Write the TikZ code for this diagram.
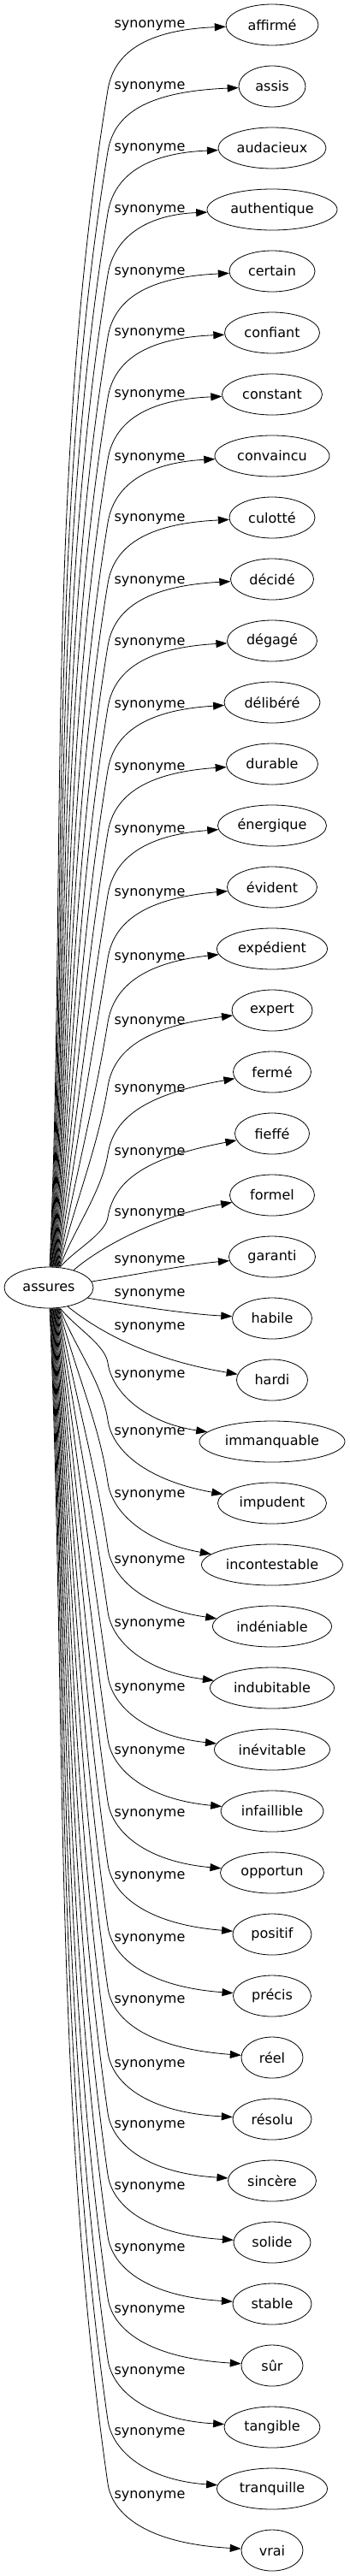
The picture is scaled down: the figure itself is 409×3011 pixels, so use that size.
\documentclass[tikz,border=0pt]{standalone}
\usepackage{fontspec}
\setmainfont{DejaVu Sans}
\usetikzlibrary{arrows.meta,positioning,shapes.geometric}

% edge going up from assures, #1 target, #2 label y, #3 start shift
\newcommand{\synup}[3]{%
  \pgfmathsetmacro{\ky}{#2+75}
  \pgfmathsetmacro{\hh}{(1481-\ky)/3}
  \pgfmathsetmacro{\dx}{(69-#3)*0.3}
  \draw[syn] ([xshift=#3pt]assures.north) .. controls +(\dx,-\hh) and +(-0.163*\hh,\hh) .. (126,\ky)
    .. controls (133,#2+32) and (170,#2+5) .. (#1);
  \node[lbl] (l#1) at (175,#2) {synonyme};}
% edge going down from assures
\newcommand{\syndown}[3]{%
  \pgfmathsetmacro{\ky}{#2-15}
  \pgfmathsetmacro{\hh}{(\ky-1529)/3}
  \pgfmathsetmacro{\dx}{(69-#3)*0.3}
  \draw[syn] ([xshift=#3pt]assures.south) .. controls +(\dx,\hh) and +(-0.143*\hh,-\hh) .. (126,\ky)
    .. controls (131,#2+20) and (170,#2+55) .. (#1);
  \node[lbl] (l#1) at (175,#2) {synonyme};}

\begin{document}
\begin{tikzpicture}[x=1pt,y=-1pt,node distance=72pt,on grid,
    >={Triangle[length=13pt,width=9pt]},
    word/.style={draw,ellipse,line width=0.8pt,minimum height=48pt,inner sep=0pt,
      font=\fontsize{16}{19}\selectfont},
    lbl/.style={inner sep=0pt,font=\fontsize{16}{19}\selectfont},
    syn/.style={->,line width=0.8pt}]
  \useasboundingbox (0,0) rectangle (409,3011);
  \node[word,minimum width=104pt] (assures) at (57,1505) {assures};
  \node[word,minimum width=108pt] (affirme) at (318,29) {affirmé};
  \node[word,minimum width=78pt] (assis) [below=of affirme] {assis};
  \node[word,minimum width=126pt] (audacieux) [below=of assis] {audacieux};
  \node[word,minimum width=152pt] (authentique) [below=of audacieux] {authentique};
  \node[word,minimum width=100pt] (certain) [below=of authentique] {certain};
  \node[word,minimum width=111pt] (confiant) [below=of certain] {confiant};
  \node[word,minimum width=117pt] (constant) [below=of confiant] {constant};
  \node[word,minimum width=134pt] (convaincu) [below=of constant] {convaincu};
  \node[word,minimum width=100pt] (culotte) [below=of convaincu] {culotté};
  \node[word,minimum width=97pt] (decide) [below=of culotte] {décidé};
  \node[word,minimum width=105pt] (degage) [below=of decide] {dégagé};
  \node[word,minimum width=112pt] (delibere) [below=of degage] {délibéré};
  \node[word,minimum width=107pt] (durable) [below=of delibere] {durable};
  \node[word,minimum width=127pt] (energique) [below=of durable] {énergique};
  \node[word,minimum width=105pt] (evident) [below=of energique] {évident};
  \node[word,minimum width=129pt] (expedient) [below=of evident] {expédient};
  \node[word,minimum width=94pt] (expert) [below=of expedient] {expert};
  \node[word,minimum width=91pt] (ferme) [below=of expert] {fermé};
  \node[word,minimum width=87pt] (fieffe) [below=of ferme] {fieffé};
  \node[word,minimum width=99pt] (formel) [below=of fieffe] {formel};
  \node[word,minimum width=101pt] (garanti) [below=of formel] {garanti};
  \node[word,minimum width=93pt] (habile) [below=of garanti] {habile};
  \node[word,minimum width=83pt] (hardi) [below=of habile] {hardi};
  \node[word,minimum width=170pt] (immanquable) [below=of hardi] {immanquable};
  \node[word,minimum width=127pt] (impudent) [below=of immanquable] {impudent};
  \node[word,minimum width=165pt] (incontestable) [below=of impudent] {incontestable};
  \node[word,minimum width=139pt] (indeniable) [below=of incontestable] {indéniable};
  \node[word,minimum width=145pt] (indubitable) [below=of indeniable] {indubitable};
  \node[word,minimum width=135pt] (inevitable) [below=of indubitable] {inévitable};
  \node[word,minimum width=120pt] (infaillible) [below=of inevitable] {infaillible};
  \node[word,minimum width=121pt] (opportun) [below=of infaillible] {opportun};
  \node[word,minimum width=92pt] (positif) [below=of opportun] {positif};
  \node[word,minimum width=91pt] (precis) [below=of positif] {précis};
  \node[word,minimum width=72pt] (reel) [below=of precis] {réel};
  \node[word,minimum width=92pt] (resolu) [below=of reel] {résolu};
  \node[word,minimum width=103pt] (sincere) [below=of resolu] {sincère};
  \node[word,minimum width=90pt] (solide) [below=of sincere] {solide};
  \node[word,minimum width=92pt] (stable) [below=of solide] {stable};
  \node[word,minimum width=72pt] (sur) [below=of stable] {sûr};
  \node[word,minimum width=112pt] (tangible) [below=of sur] {tangible};
  \node[word,minimum width=129pt] (tranquille) [below=of tangible] {tranquille};
  \node[word,minimum width=72pt] (vrai) [below=of tranquille] {vrai};

  \synup{affirme}{30}{1}
  \synup{assis}{102}{1.7}
  \synup{audacieux}{174}{2.4}
  \synup{authentique}{246}{3.1}
  \synup{certain}{319}{3.8}
  \synup{confiant}{390}{4.5}
  \synup{constant}{462}{5.2}
  \synup{convaincu}{536}{5.9}
  \synup{culotte}{607}{6.6}
  \synup{decide}{680}{7.3}
  \synup{degage}{752}{8}
  \synup{delibere}{825}{8.7}
  \synup{durable}{898}{9.4}
  \synup{energique}{971}{10.1}
  \synup{evident}{1045}{10.8}
  \synup{expedient}{1120}{11.5}
  \synup{expert}{1195}{12.2}
  \synup{ferme}{1274}{12.9}
  \synup{fieffe}{1348}{13.6}
  % the ones near the middle
  \draw[syn] (assures.35) .. controls (120,1455) and (190,1420) .. (formel);
  \node[lbl] (lformel) at (175,1419) {synonyme};
  \draw[syn] (assures.8) .. controls (170,1488) and (220,1478) .. (garanti);
  \node[lbl] (lgaranti) at (175,1474) {synonyme};
  \draw[syn] (assures.-15) .. controls (160,1527) and (220,1536) .. (habile);
  \node[lbl] (lhabile) at (175,1513) {synonyme};
  \draw[syn] (assures.-45) .. controls (120,1560) and (180,1590) .. (hardi);
  \node[lbl] (lhardi) at (175,1552) {synonyme};
  \syndown{immanquable}{1608}{13.6}
  \syndown{impudent}{1675}{12.9}
  \syndown{incontestable}{1748}{12.2}
  \syndown{indeniable}{1825}{11.5}
  \syndown{indubitable}{1899}{10.8}
  \syndown{inevitable}{1974}{10.1}
  \syndown{infaillible}{2048}{9.4}
  \syndown{opportun}{2121}{8.7}
  \syndown{positif}{2194}{8}
  \syndown{precis}{2267}{7.3}
  \syndown{reel}{2339}{6.6}
  \syndown{resolu}{2414}{5.9}
  \syndown{sincere}{2485}{5.2}
  \syndown{solide}{2557}{4.5}
  \syndown{stable}{2629}{3.8}
  \syndown{sur}{2701}{3.1}
  \syndown{tangible}{2773}{2.4}
  \syndown{tranquille}{2844}{1.7}
  \syndown{vrai}{2918}{1}
\end{tikzpicture}
\end{document}
